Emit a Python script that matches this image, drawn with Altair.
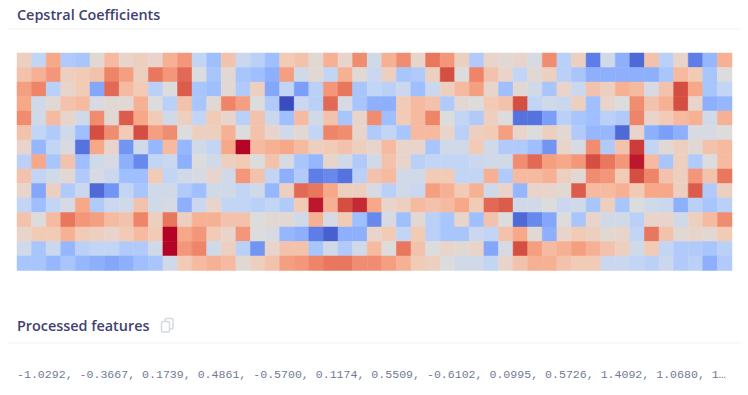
import altair as alt

row00 = [1.5,-2,4,-3,-3.5,0.5,3,1,1.5,1,3.5,5,-2,-4,2.5,-1.5, -2.5,-4,2,2.5,0.5,3.5,1,5.5,-1,3.5,5.5,1,6.5,5,1.5,-3,1, 0.5,1,-0.5,5.5,-2.5,1.5,-7.5,-1,-5,-8.5,2.5,-2.5,1,-7.5,-4.5,3.5]
row01 = [2.5,3.5,5,1.5,2,2.5,6,4.5,1.5,6.5,5,7,0,-3.5,0.5,-3.5, -4,-5,4.5,-1,0.5,-2,3.5,0.5,-1.5,1.5,-3.5,-3,1.5,8,0,6,2.5, 1,-2,0.5,1.5,-2.5,-3.5,-5,-5,-5,-5,-5,-3.5,3,2,-3.5,0]
row02 = [4.5,6,-2.5,1,2,-5.5,7,3,2,-2.5,0,7.5,-3.5,-4,0.5,-3, 1.5,-5.5,-2,-6,-2.5,5,6.5,-3.5,-2,-2.5,-1.5,-4,-1.5,1.5,3,4.5,1, -4,0.5,-1,-3.5,1,-1.5,2.5,1.5,3.5,3,-0.5,2.5,8,4,-3.5,-2]
row03 = [4,-1,0.5,2.5,3,-0.5,0.5,0.5,3.5,0,-2.5,2.5,-3.5,0.5,6,4.5, 0,-3,-10,-1.5,-2.5,7,-0.5,-3.5,-5,-5,2,3,2.5,-3,0.5,0,2, 2.5,8,-2,-1,-1.5,1.5,-4,1,0,5.5,2.5,3.5,8,1,-5,-4.5]
row04 = [5.5,-1,3,1,-1,5.5,0.5,7.5,4,2,-1,1.5,-2,2,1,-2.5, 2.5,-1.5,-4,3,-1,2.5,-3.5,1,5.5,-4,2,3,6,0,-2,-3,1.5, 0,-8,-8,-6,-2.5,-3.5,-4,-2.5,-3,6,1,2,3,3.5,-1,3.5]
row05 = [2.5,-2,-3,-1,-4,8,5.5,2,8,4.5,5.5,0,1.5,1.5,3.5,0, 2.5,1,-1,0.5,-2,6,5.5,1,-3,-2,-3.5,3,3,1,-2.5,1.5,2, 4.5,1,0,1.5,0.5,-3,-4.5,-4.5,-8.5,1,-5,-6,-5,-0.5,-0.5,0]
row06 = [1,-4.5,-2,-0.5,-8,4,1,-6.5,-1,-4.5,3,-4.5,-1,-2,4,10, 3,3.5,4,3,1.5,2,2.5,1.5,1,3,1,1,-3.5,-1,-1,2,-1, -3,-3,-4,-6.5,1,-0.5,5.5,-3,2.5,8.5,-2,0.5,1.5,0.5,2.5,3]
row07 = [-2.5,4,-3.5,2.5,-4,-1,-0.5,-5,-7,-2,-1.5,-5,0,-1,1.5,2, 0,2.5,-0.5,-3.5,-4.5,1,-1,-3,-1,2.5,1,-2.5,-2,-2,-2,-1.5,-1, -1,5.5,7,4.5,4,5,8,6.5,5,9.5,3,-3.5,1.5,-3,0,3]
row08 = [2.5,-2,-1,0.5,-3,-0.5,-1.5,-4,-4,2,-2,-1,-0.5,1,-1,5, 2.5,-2,-5,-3,-7.5,-7,-8,-2.5,2.5,3,-1,-1,2,2,-2,-2,3.5, -3,3,3,3.5,1.5,0.5,5.5,5,2,8,6,2.5,1.5,5,2.5,6.5]
row09 = [1,-5.5,1.5,-3,-1.5,-8.5,-6.5,-2,-3.5,-1,-1,-3,-4,-1,-1,-2, -1,-4.5,1.5,7,6.5,4,1.5,1.5,-0.5,-2.5,-1,-1.5,4.5,3.5,2,3.5,-1, 1,-4.5,1,1,0.5,7.5,3,3,3.5,2,4,4,1.5,7.5,-3,1.5]
row10 = [-2,-4,-2,-0.5,4,-3,-1.5,-1,2.5,-1,-0.5,-5,-1.5,1,-2,-2, -2.5,-2,-3,2,9.5,3.5,8,9,4,1,1.5,3,2.5,3,4,2,7, 7.5,-1,-1,0,-1.5,-1,-3.5,1.5,-3.5,0,-1,-1.5,-5,-2.5,-3.5,-2.5]
row11 = [2.5,0,3,6.5,5,4.5,3,2.5,6,1.5,6.5,1.5,3.5,3.5,2.5,2.5, 0,0.5,0.5,-1,3.5,-0.5,2,-4,-7,-0.5,-4,0.5,-2.5,-3.5,1,-4,2.5, 0,-8.5,-7,-5.5,0,-3.5,1,-1,-1,-2.5,1,1,-1,1.5,3,5.5]
row12 = [1,2,2,3.5,2,1.5,1,2,3,2,10,4,5,2,1,5, 0,-0.5,-4.5,-5,-7.5,-9,-5,-5,1,2,-2,2,-2.5,-3.5,-3.5,-1.5,-2, 2.5,4,0.5,-5,1,2,1.5,0.5,1,-2,6.5,2.5,0.5,1,0.5,2]
row13 = [-1,-3.5,-1.5,-4.5,-2.5,-2,-2,-3,-3,-1,10,5,6,-1,1.5,-2.5, -6.5,1,2.5,2.5,-3.5,-1,-3,-1,3,0,6.5,2.5,0,1,0.5,1,-5.5, -0.5,8,4.5,3,3.5,4.5,3.5,2.5,1.5,-1,2,-2,-3,-3,-3.5,-2.5]
row14 = [-3.5,-3.5,-4.5,-3.5,-4.5,-5,-5.5,-5,-4,-3.5,-1,2,3,3.5,3,0.5, 1.5,2.5,4.5,5,6,6.5,6.5,5.5,5.5,4.5,3.5,2,1.5,0,-1,-1,-2, 1,2.5,3.5,3.5,2.5,2,2,-1.5,-1.5,-2,-2.5,-1.5,-3,-2.5,-5,-3]
rows = [row00,row01,row02,row03,row04,row05,row06,row07,row08,row09,row10,row11,row12,row13,row14]

title_text = "Cepstral Coefficients"
section_text = "Processed features"
features_text = "-1.0292, -0.3667, 0.1739, 0.4861, -0.5700, 0.1174, 0.5509, -0.6102, 0.0995, 0.5726, 1.4092, 1.0680, 1\u2026"

color_stops = [-10, -8, -6, -4, -2, 0, 2, 4, 6, 8, 10]
color_range = ["#3b4cc0", "#5572df", "#7b9ff9", "#9fbfff", "#c3d5f4", "#dddcdc",
               "#f2cbb7", "#f7a889", "#ee8468", "#d44e41", "#b40426"]

cells = [{"col": c, "row": r, "v": v} for r, row in enumerate(rows) for c, v in enumerate(row)]

cscale = alt.Scale(domain=color_stops, range=color_range, interpolate="rgb")

heat = alt.Chart(alt.Data(values=cells)).mark_rect(strokeWidth=0.5).encode(
    x=alt.X("col:O", axis=None, scale=alt.Scale(paddingInner=0, paddingOuter=0)),
    y=alt.Y("row:O", axis=None, scale=alt.Scale(paddingInner=0, paddingOuter=0)),
    color=alt.Color("v:Q", legend=None, scale=cscale),
    stroke=alt.Color("v:Q", legend=None, scale=cscale),
)

def label(text, x, y, **kw):
    return alt.Chart(alt.Data(values=[{"t": text}])).mark_text(align="left", baseline="middle", **kw).encode(
        text="t:N", x=alt.value(x), y=alt.value(y))

def rule(y):
    return alt.Chart(alt.Data(values=[{}])).mark_rule(color="#f1f1f5", strokeWidth=1).encode(
        x=alt.value(-9), x2=alt.value(723), y=alt.value(y))

def icon(x0, x1, y0, y1, fill):
    return alt.Chart(alt.Data(values=[{}])).mark_rect(fill=fill, stroke="#d4d8df", strokeWidth=1.4, cornerRadius=1.5).encode(
        x=alt.value(x0), x2=alt.value(x1), y=alt.value(y0), y2=alt.value(y1))

heading = dict(font="Open Sans", fontSize=14.4, fontWeight=600, color="#3f4270")
chart = alt.layer(
    heat,
    rule(-24), rule(290),
    label(title_text, 0, -37, **heading),
    label(section_text, 0, 273.5, **heading),
    icon(148, 156, 265.5, 276, "#ffffff"),
    icon(144.5, 152.5, 268.5, 279, "#ffffff"),
    label(features_text, 0, 322, font="Liberation Mono", fontSize=11.58, color="#707a96"),
).properties(
    width=715, height=217.5,
    padding={"left": 9, "top": 45, "right": 8, "bottom": 116.5},
    autosize=alt.AutoSizeParams(type="none"),
).configure_view(stroke=None)

chart.save("out.html", embed_options={"renderer": "svg", "actions": False})
